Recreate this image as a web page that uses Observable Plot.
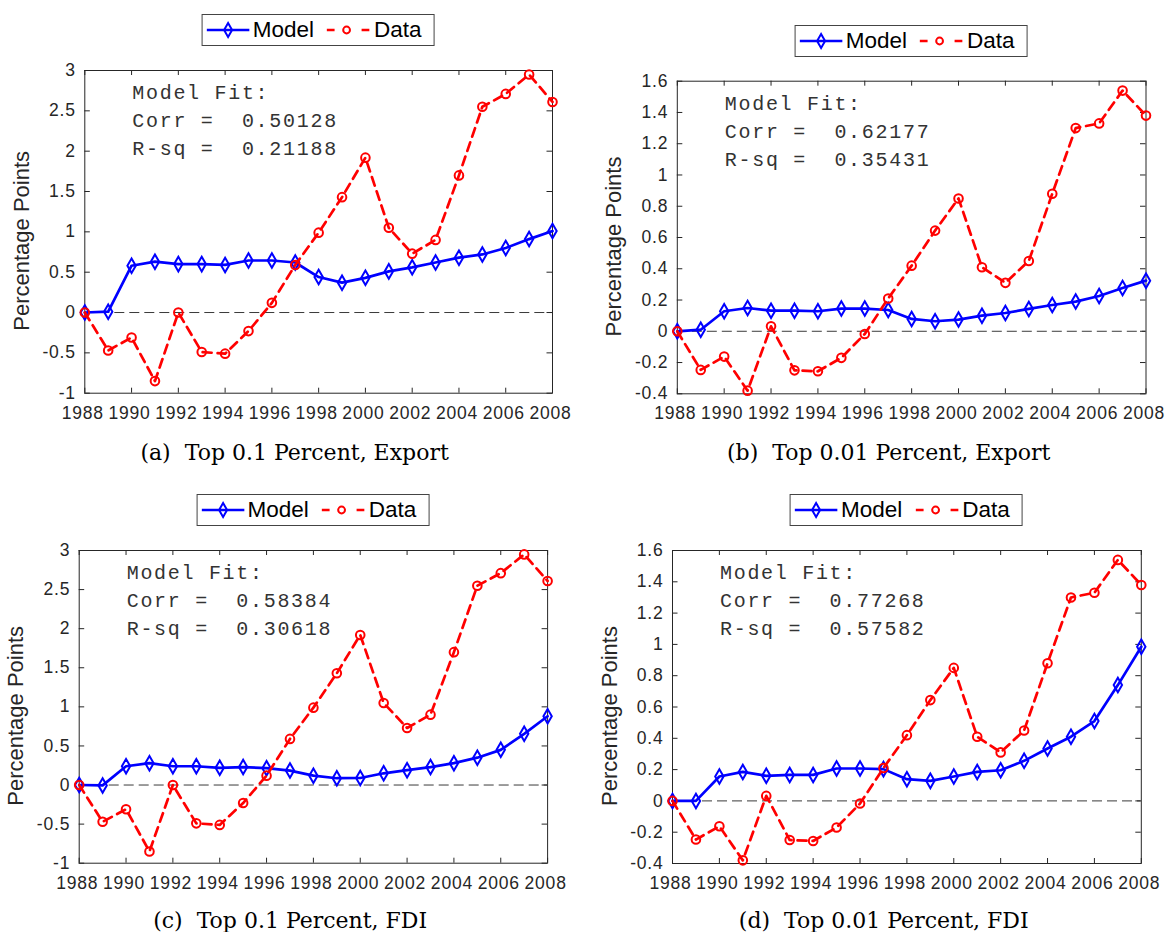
<!DOCTYPE html>
<html><head><meta charset="utf-8">
<script src="https://cdn.jsdelivr.net/npm/d3@7"></script>
<script src="https://cdn.jsdelivr.net/npm/@observablehq/plot@0.6"></script>
<style>
body{margin:0;background:#fff;}
#root{position:relative;width:1167px;height:932px;overflow:hidden;background:#fff;}
.panel{position:absolute;width:600px;height:466px;}
.panel > svg{position:absolute;left:0;top:0;}
.legend{position:absolute;box-sizing:border-box;height:32px;border:1px solid #444;background:#fff;display:flex;align-items:center;padding:0 12px 0 4px;font-family:"Liberation Sans",Arial,sans-serif;font-size:22.5px;color:#000;transform:translateX(-50%);white-space:nowrap;}
.legend svg{position:static;display:block;}
.caption{position:absolute;font-family:"DejaVu Serif",serif;font-size:22px;color:#000;white-space:pre;transform:translate(-50%,-50%);}
svg text{white-space:pre;}
g[aria-label="x-axis tick label"], g[aria-label="y-axis tick label"]{font-size:17.5px !important;letter-spacing:0.8px;}
</style></head>
<body><div id="root"></div>
<script>
// ---- data ----
const years = [1988,1989,1990,1991,1992,1993,1994,1995,1996,1997,1998,1999,2000,2001,2002,2003,2004,2005,2006,2007,2008];
const xTicks = [1988,1990,1992,1994,1996,1998,2000,2002,2004,2006,2008];
const yTicks01 = [-1,-0.5,0,0.5,1,1.5,2,2.5,3];
const yTicks001 = [-0.4,-0.2,0,0.2,0.4,0.6,0.8,1,1.2,1.4,1.6];

const dataTop01 = [0,-0.47,-0.31,-0.85,0,-0.49,-0.51,-0.23,0.12,0.59,0.99,1.43,1.92,1.05,0.73,0.90,1.70,2.55,2.71,2.95,2.61];
const dataTop001 = [0,-0.247,-0.162,-0.38,0.032,-0.25,-0.256,-0.17,-0.017,0.21,0.42,0.644,0.85,0.41,0.31,0.45,0.88,1.30,1.33,1.54,1.38];
const modelExport01 = [0,0.01,0.58,0.63,0.60,0.60,0.59,0.645,0.645,0.62,0.44,0.37,0.43,0.51,0.56,0.62,0.68,0.72,0.80,0.91,1.01];
const modelExport001 = [0,0.01,0.128,0.149,0.132,0.132,0.128,0.145,0.145,0.136,0.079,0.064,0.075,0.10,0.117,0.143,0.168,0.19,0.226,0.277,0.324];
const modelFDI01 = [0,-0.005,0.24,0.28,0.24,0.24,0.22,0.23,0.215,0.185,0.12,0.087,0.09,0.15,0.19,0.23,0.28,0.35,0.45,0.655,0.88];
const modelFDI001 = [0,0,0.156,0.185,0.16,0.166,0.166,0.207,0.207,0.203,0.139,0.128,0.156,0.185,0.196,0.256,0.335,0.41,0.51,0.74,0.985];

const fitA = ["Model Fit:", "Corr =  0.50128", "R-sq =  0.21188"];
const fitB = ["Model Fit:", "Corr =  0.62177", "R-sq =  0.35431"];
const fitC = ["Model Fit:", "Corr =  0.58384", "R-sq =  0.30618"];
const fitD = ["Model Fit:", "Corr =  0.77268", "R-sq =  0.57582"];

const captions = ["(a)  Top 0.1 Percent, Export", "(b)  Top 0.01 Percent, Export", "(c)  Top 0.1 Percent, FDI", "(d)  Top 0.01 Percent, FDI"];
const yLabel = "Percentage Points";
const seriesNames = ["Model", "Data"];

// ---- layout ----
const W = 590, H = 430;
const panels = [
  {left:0, top:0, ml:84.3, mr:38, mt:70, mb:37.3, yTicks:yTicks01, model:modelExport01, data:dataTop01, fit:fitA, cap:captions[0], capX:294.6, capY:452, legTop:14},
  {left:587, top:0, ml:89.8, mr:31.5, mt:80.7, mb:36.7, yTicks:yTicks001, model:modelExport001, data:dataTop001, fit:fitB, cap:captions[1], capX:301.7, capY:452, legTop:25},
  {left:0, top:470, ml:78.7, mr:42.9, mt:80, mb:37.3, yTicks:yTicks01, model:modelFDI01, data:dataTop01, fit:fitC, cap:captions[2], capX:290.2, capY:450, legTop:24},
  {left:587, top:470, ml:85, mr:36.2, mt:80, mb:37, yTicks:yTicks001, model:modelFDI001, data:dataTop001, fit:fitD, cap:captions[3], capX:296.7, capY:450, legTop:24}
];

const BLUE = "#0000ff", RED = "#ff0000", AX = "#262626";
const root = document.getElementById("root");

function legendHTML() {
  return `<svg width="43" height="20"><line x1="0" x2="43" y1="10" y2="10" stroke="${BLUE}" stroke-width="2.5"/><path d="M21.5,3L25.5,10L21.5,17L17.5,10Z" fill="none" stroke="${BLUE}" stroke-width="2"/></svg>`+
    `<span style="margin-left:3px">${seriesNames[0]}</span>`+
    `<svg width="43" height="20" style="margin-left:13px"><line x1="0" x2="8" y1="10" y2="10" stroke="${RED}" stroke-width="2.5"/><circle cx="20" cy="10" r="3.4" fill="none" stroke="${RED}" stroke-width="2"/><line x1="35" x2="43" y1="10" y2="10" stroke="${RED}" stroke-width="2.5"/></svg>`+
    `<span style="margin-left:4px">${seriesNames[1]}</span>`;
}

panels.forEach(p => {
  const fw = W - p.ml - p.mr, fh = H - p.mt - p.mb;
  const rows = years.map((y, i) => ({year: y, model: p.model[i], data: p.data[i]}));
  const yDom = [p.yTicks[0], p.yTicks[p.yTicks.length - 1]];
  const fitStyle = {text: d => d, frameAnchor: "top-left", dx: 47.5, textAnchor: "start", lineAnchor: "middle", fontFamily: "'Liberation Mono', monospace", fontSize: 20, fill: "#333"};
  const chart = Plot.plot({
    width: W, height: H,
    marginLeft: p.ml, marginRight: p.mr, marginTop: p.mt, marginBottom: p.mb,
    style: {fontFamily: "'Liberation Sans', Arial, sans-serif", fontSize: "17.5px", color: AX, background: "transparent", overflow: "visible"},
    x: {domain: [1988, 2008]},
    y: {domain: yDom},
    marks: [
      Plot.ruleY([0], {stroke: "#3a3a3a", strokeWidth: 1, strokeDasharray: "10,5"}),
      Plot.ruleX(xTicks, {x: d => d, insetTop: fh - 5, stroke: AX, strokeWidth: 1}),
      Plot.ruleX(xTicks, {x: d => d, insetBottom: fh - 5, stroke: AX, strokeWidth: 1}),
      Plot.ruleY(p.yTicks, {y: d => d, insetRight: fw - 5.5, stroke: AX, strokeWidth: 1}),
      Plot.ruleY(p.yTicks, {y: d => d, insetLeft: fw - 5.5, stroke: AX, strokeWidth: 1}),
      Plot.frame({stroke: AX, strokeWidth: 1}),
      Plot.axisX(xTicks, {tickSize: 0, tickPadding: 13, dx: -2, tickFormat: d => String(d), label: null, fontSize: 17.5, fill: AX}),
      Plot.axisY(p.yTicks, {tickSize: 0, tickPadding: 9, tickFormat: d => String(d), label: null, fontSize: 17.5, fill: AX}),
      Plot.line(rows, {x: "year", y: "model", stroke: BLUE, strokeWidth: 2.7}),
      Plot.dot(rows, {x: "year", y: "model", symbol: "diamond", r: 4.4, stroke: BLUE, strokeWidth: 2, fill: "none"}),
      Plot.line(rows, {x: "year", y: "data", stroke: RED, strokeWidth: 2.7, strokeDasharray: "9,6"}),
      Plot.dot(rows, {x: "year", y: "data", symbol: "circle", r: 4.3, stroke: RED, strokeWidth: 2, fill: "none"}),
      Plot.text([p.fit[0]], {...fitStyle, dy: 22}),
      Plot.text([p.fit[1]], {...fitStyle, dy: 50}),
      Plot.text([p.fit[2]], {...fitStyle, dy: 78}),
      Plot.text([yLabel], {text: d => d, frameAnchor: "left", dx: -63, dy: 9, rotate: -90, textAnchor: "middle", lineAnchor: "middle", fontSize: 22, fill: AX})
    ]
  });
  chart.querySelectorAll("g[font-family*='Mono']").forEach(g => g.style.letterSpacing = "1.7px");
  const panel = document.createElement("div");
  panel.className = "panel";
  panel.style.left = p.left + "px";
  panel.style.top = p.top + "px";
  panel.appendChild(chart);
  const leg = document.createElement("div");
  leg.className = "legend";
  leg.style.left = (p.ml + fw / 2) + "px";
  leg.style.top = p.legTop + "px";
  leg.innerHTML = legendHTML();
  panel.appendChild(leg);
  const cap = document.createElement("div");
  cap.className = "caption";
  cap.style.left = p.capX + "px";
  cap.style.top = p.capY + "px";
  cap.textContent = p.cap;
  panel.appendChild(cap);
  root.appendChild(panel);
});
</script>
</body></html>
